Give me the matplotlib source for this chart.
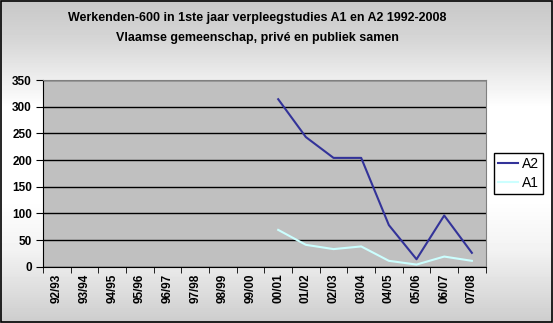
import numpy as np
from matplotlib import pyplot as plt
from matplotlib.patches import Rectangle

# schooljaren en aantallen werkenden-600
years = ['92/93', '93/94', '94/95', '95/96', '96/97', '97/98', '98/99', '99/00',
         '00/01', '01/02', '02/03', '03/04', '04/05', '05/06', '06/07', '07/08']
a2 = [None] * 8 + [314, 243, 204, 204, 78, 14, 96, 26]
a1 = [None] * 8 + [69, 41, 33, 38, 11, 4, 19, 11]

fig = plt.figure(figsize=(5.53, 3.23), dpi=100)

# achtergrond: grijs boven en onder, wit in het midden
bg = fig.add_axes([0, 0, 1, 1], zorder=-10)
rows = np.array([0.78, 0.84, 1.0, 1.0, 0.95, 0.80])
ys = np.array([0, 40, 107, 200, 250, 323])
grad = np.interp(np.arange(323), ys, rows)
bg.imshow(np.tile(grad[:, None], (1, 10)), cmap='gray', vmin=0, vmax=1,
          aspect='auto', extent=[0, 1, 0, 1])
bg.set_axis_off()
fig.patches.append(Rectangle((0.001, 0.002), 0.997, 0.995, transform=fig.transFigure,
                             fill=False, edgecolor='black', lw=1.2))

ax = fig.add_axes([0.0778, 0.1743, 0.8005, 0.578])
ax.set_facecolor('#c0c0c0')
x = np.arange(len(years))
y2 = np.array([np.nan if v is None else v for v in a2], dtype=float)
y1 = np.array([np.nan if v is None else v for v in a1], dtype=float)
ax.plot(x, y2, color='#333399', lw=1.5, label='A2', zorder=3)
ax.plot(x, y1, color='#ccffff', lw=1.5, label='A1', zorder=3)

ax.set_xlim(-0.5, len(years) - 0.5)
ax.set_ylim(0, 350)
ax.set_yticks(range(0, 351, 50))
ax.yaxis.grid(True, color='black', lw=1)
ax.set_axisbelow(True)
ax.set_xticks(x)
ax.set_xticklabels(years, rotation=90, fontsize=8.5, fontweight='bold',
                   family='Liberation Sans')
ax.set_xticks(np.arange(-0.5, len(years), 1), minor=True)
ax.tick_params(axis='x', which='major', length=0, pad=5)
ax.tick_params(axis='x', which='minor', length=4, direction='out', color='black')
ax.tick_params(axis='y', length=5, direction='out', color='black', pad=3)
for lab in ax.get_yticklabels():
    lab.set_fontsize(8.5)
    lab.set_fontweight('bold')
    lab.set_family('Liberation Sans')
ax.spines['top'].set_color('#808080')
ax.spines['right'].set_color('#808080')

fig.text(0.465, 0.944, 'Werkenden-600 in 1ste jaar verpleegstudies A1 en A2 1992-2008',
         ha='center', va='center', fontsize=9, fontweight='bold', family='Liberation Sans')
fig.text(0.465, 0.882, 'Vlaamse gemeenschap, privé en publiek samen',
         ha='center', va='center', fontsize=9, fontweight='bold', family='Liberation Sans')

leg = ax.legend(loc='upper left', bbox_to_anchor=(494 / 553, 1 - 153 / 323),
                bbox_transform=fig.transFigure, fancybox=False, framealpha=1,
                edgecolor='black', handlelength=1.4, handletextpad=0.3,
                borderpad=0.3, borderaxespad=0, labelspacing=0.35,
                prop={'family': 'Liberation Sans', 'size': 10})
leg.get_frame().set_linewidth(1)

plt.savefig('out.png', dpi=100)
